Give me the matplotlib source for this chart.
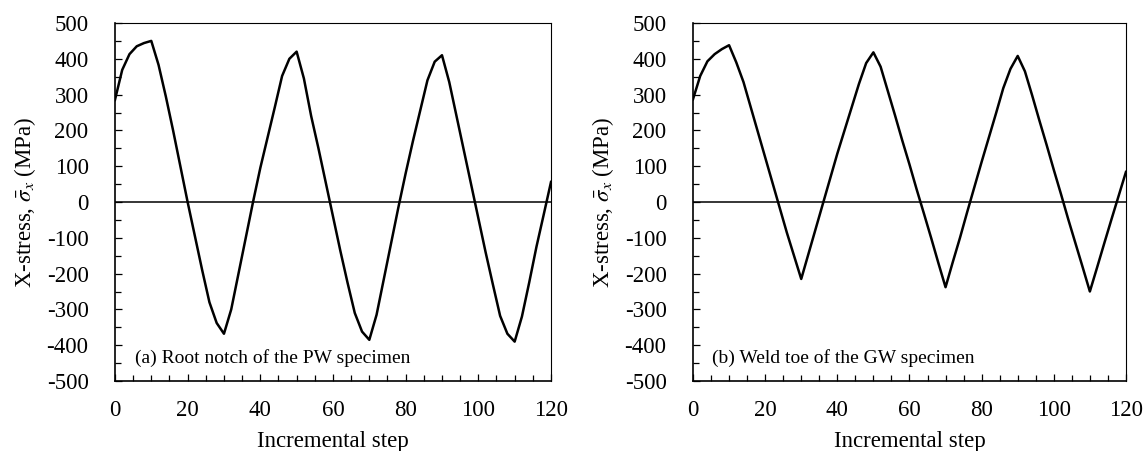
import matplotlib
matplotlib.use("Agg")
import matplotlib.pyplot as plt
from matplotlib.ticker import MultipleLocator

plt.rcParams['font.family'] = ['Liberation Serif', 'DejaVu Serif']
plt.rcParams['mathtext.fontset'] = 'stix'
plt.rcParams['axes.unicode_minus'] = False

steps = list(range(0, 121, 2))

stress_pw = [285, 369, 413, 435, 444, 450, 383, 295, 200, 100,
             0, -95, -190, -280, -338, -368, -300, -200, -100, 0,
             95, 180, 265, 352, 400, 420, 345, 240, 150, 55,
             -40, -135, -225, -310, -362, -385, -315, -215, -115, -15,
             80, 170, 255, 340, 392, 410, 335, 240, 145, 50,
             -45, -140, -230, -318, -368, -390, -320, -225, -125, -35,
             56]

stress_gw = [287, 352, 393, 413, 427, 438, 390, 335, 265, 195,
             125, 55, -15, -85, -150, -215, -145, -75, -5, 65,
             135, 200, 265, 330, 388, 418, 378, 310, 242, 172,
             105, 35, -32, -100, -170, -238, -168, -100, -28, 42,
             112, 180, 248, 318, 372, 408, 365, 298, 228, 160,
             90, 22, -48, -115, -182, -250, -183, -115, -48, 18,
             84]

panel_labels = ["(a) Root notch of the PW specimen", "(b) Weld toe of the GW specimen"]
xticks = [0, 20, 40, 60, 80, 100, 120]
yticks = list(range(-500, 501, 100))

fig = plt.figure(figsize=(11.46, 4.51), dpi=100)
ax1 = fig.add_axes([0.1003, 0.1552, 0.3805, 0.7938])
ax2 = fig.add_axes([0.6047, 0.1552, 0.3778, 0.7938])

for ax, data, lab in [(ax1, stress_pw, panel_labels[0]), (ax2, stress_gw, panel_labels[1])]:
    ax.axhline(0, color='black', lw=1.1, zorder=1)
    ax.plot(steps, data, color='black', lw=1.8, zorder=2)
    ax.set_xlim(0, 120)
    ax.set_ylim(-500, 500)
    ax.set_xticks(xticks)
    ax.set_yticks(yticks)
    ax.xaxis.set_minor_locator(MultipleLocator(5))
    ax.yaxis.set_minor_locator(MultipleLocator(50))
    ax.tick_params(which='both', direction='in', top=False, right=False,
                   labelsize=16.5, width=0.9)
    ax.tick_params(which='major', length=5)
    ax.tick_params(which='minor', length=4)
    ax.tick_params(axis='x', which='major', pad=14)
    ax.tick_params(axis='y', which='major', pad=19)
    for s in ['left', 'bottom']:
        ax.spines[s].set_linewidth(1.2)
    for s in ['top', 'right']:
        ax.spines[s].set_linewidth(0.8)
    ax.set_xlabel("Incremental step", fontsize=16.5, labelpad=7)
    ax.set_ylabel(r"X-stress, $\bar{\sigma}_x$ (MPa)", fontsize=16.5, labelpad=6)
    ax.text(0.045, 0.065, lab, transform=ax.transAxes, fontsize=14,
            ha='left', va='center')

fig.savefig("out.png", dpi=100)
